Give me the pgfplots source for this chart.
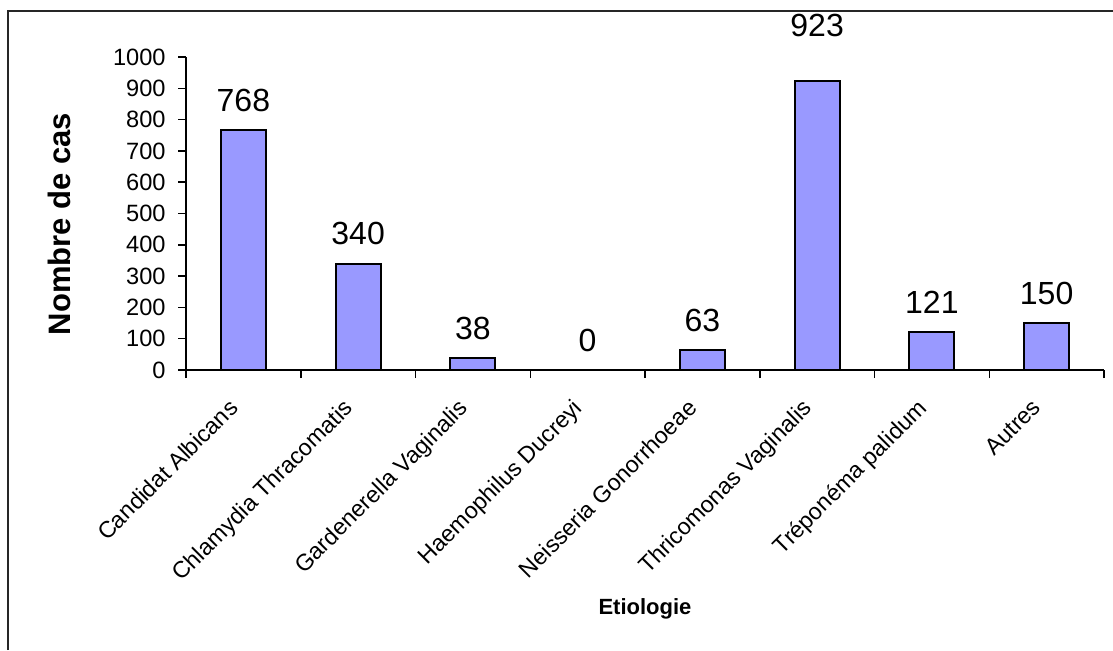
\documentclass[border=0pt]{standalone}
\usepackage{fontspec}
\setmainfont{Liberation Sans}
\usepackage{pgfplots}
\pgfplotsset{compat=1.18}
\definecolor{barblue}{HTML}{9999FF}
\begin{document}
\begin{tikzpicture}
\path[use as bounding box] (0,0) rectangle (556.5pt,325pt);
% chart frame, only left and top edges are visible
\draw[line width=1pt, black!85] (4pt,0) -- (4pt,319.5pt) -- (556.5pt,319.5pt);
\begin{axis}[
  at={(93pt,140pt)}, anchor=south west,
  scale only axis, width=459pt, height=156.5pt,
  clip=false,
  axis lines*=left,
  axis line style={-, line width=0.75pt},
  ymin=0, ymax=1000, ytick={0,100,...,1000},
  xmin=-0.5, xmax=7.5,
  xtick={-0.5,0.5,...,7.5},
  x tick label as interval,
  xticklabels={Candidat Albicans, Chlamydia Thracomatis, Gardenerella Vaginalis,
    Haemophilus Ducreyi, Neisseria Gonorrhoeae, Thricomonas Vaginalis,
    Tréponéma palidum, Autres},
  tick align=outside, major tick length=4pt,
  tick style={black, line width=0.75pt},
  /pgf/number format/assume math mode=true,
  /pgf/number format/set thousands separator={},
  yticklabel style={font=\fontsize{11.8}{12}\selectfont, inner sep=0pt, xshift=-6pt},
  xticklabel style={xshift=-8pt, yshift=-9.6pt,
    font=\fontsize{11.6}{12}\selectfont, rotate=45, anchor=north east, inner sep=0pt},
  ylabel={Nombre de cas},
  ylabel style={font=\bfseries\fontsize{15.5}{16}\selectfont,
    at={(axis description cs:-0.138,0.466)}, anchor=center},
  xlabel={Etiologie},
  xlabel style={font=\bfseries\fontsize{11}{12}\selectfont,
    at={(axis description cs:0.5,-0.764)}, anchor=center},
  ybar, bar width=22.5pt,
]
% dy: raise of the value label above the bar top (pt)
\addplot[fill=barblue, draw=black, line width=1pt,
  nodes near coords,
  visualization depends on={\thisrow{dy} \as \labdy},
  every node near coord/.append style={font=\fontsize{16}{17}\selectfont,
    anchor=base, inner sep=0pt, yshift=\labdy*1pt}]
  table[x=x, y=y] {
x y   dy
0 768 9.3
1 340 9.3
2 38  9.3
3 0   9.3
4 63  9.3
5 923 22.5
6 121 9.3
7 150 9.3
};
\end{axis}
\end{tikzpicture}
\end{document}
